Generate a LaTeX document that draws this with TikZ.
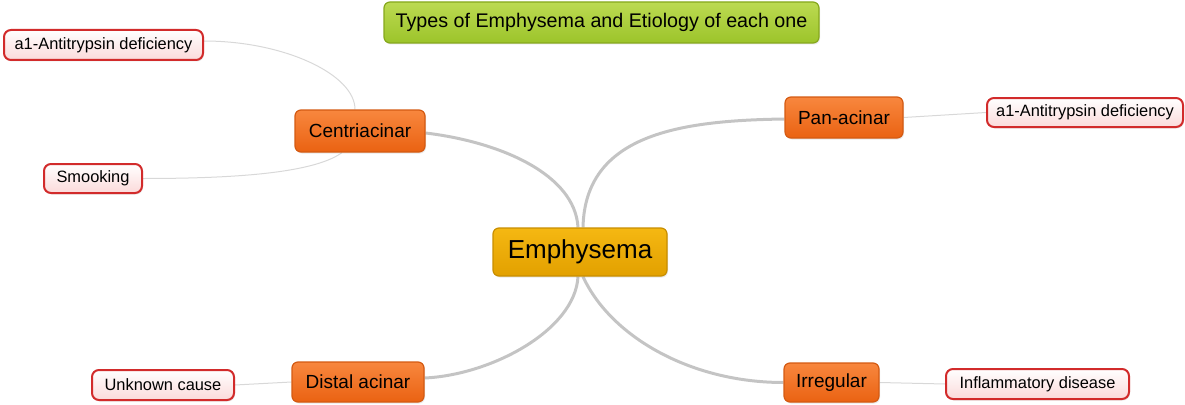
\documentclass[tikz,border=0pt]{standalone}
\usepackage{fontspec}
\setmainfont{Liberation Sans}
\usetikzlibrary{shadows,backgrounds}
\definecolor{titletop}{HTML}{BCDA52}
\definecolor{titlebot}{HTML}{9CC42A}
\definecolor{titleedge}{HTML}{86A81C}
\definecolor{goldtop}{HTML}{F5B812}
\definecolor{goldbot}{HTML}{E2A000}
\definecolor{goldedge}{HTML}{C88E00}
\definecolor{orgtop}{HTML}{F8873E}
\definecolor{orgbot}{HTML}{EA6212}
\definecolor{orgedge}{HTML}{D45A12}
\definecolor{leaftop}{HTML}{FFFFFF}
\definecolor{leafbot}{HTML}{FBDADA}
\definecolor{leafedge}{HTML}{D22B2B}
\definecolor{thick}{HTML}{C4C4C4}
\definecolor{thin}{HTML}{D8D8D8}
\tikzset{
  x=1pt,y=-1pt,
  box/.style={rounded corners=6pt, inner sep=0pt, align=center, line width=1.2pt,
    drop shadow={shadow xshift=1pt, shadow yshift=-1.5pt, opacity=0.18}},
  titlebox/.style={box, top color=titletop, bottom color=titlebot, draw=titleedge,
    font=\fontsize{19.7}{23}\selectfont},
  rootbox/.style={box, top color=goldtop, bottom color=goldbot, draw=goldedge,
    font=\fontsize{26}{30}\selectfont},
  typebox/.style={box, top color=orgtop, bottom color=orgbot, draw=orgedge,
    font=\fontsize{19}{22}\selectfont},
  leafbox/.style={box, rounded corners=7pt, top color=leaftop, bottom color=leafbot, draw=leafedge, line width=2pt,
    font=\fontsize{16.4}{19}\selectfont},
  mainlink/.style={draw=thick, line width=3pt},
  leaflink/.style={draw=thin, line width=1pt}
}
\begin{document}
\begin{tikzpicture}
\useasboundingbox (0,0) rectangle (1185,404);
\node[titlebox, minimum width=435pt, minimum height=41pt] (title) at (601.5,22.5) {Types of Emphysema and Etiology of each one};
\node[rootbox, minimum width=174pt, minimum height=48pt] (emph) at (580,252) {Emphysema};
\node[typebox, minimum width=130pt, minimum height=42pt] (cent) at (360,131) {Centriacinar};
\node[typebox, minimum width=118pt, minimum height=41pt] (pan) at (844,117.5) {Pan-acinar};
\node[typebox, minimum width=132pt, minimum height=40pt] (dist) at (358,382) {Distal acinar};
\node[typebox, minimum width=95pt, minimum height=39pt] (irr) at (831.5,382.5) {Irregular};
\node[leafbox, minimum width=199pt, minimum height=30pt] (alpha1) at (103.5,45) {a1-Antitrypsin deficiency};
\node[leafbox, minimum width=98pt, minimum height=29pt] (smoke) at (93,178.5) {Smooking};
\node[leafbox, minimum width=196pt, minimum height=29pt] (alpha2) at (1085,112.5) {a1-Antitrypsin deficiency};
\node[leafbox, minimum width=142pt, minimum height=30pt] (unk) at (163,385) {Unknown cause};
\node[leafbox, minimum width=183pt, minimum height=30pt] (infl) at (1037.5,384) {Inflammatory disease};
\begin{pgfonlayer}{background}
\path[mainlink] ([xshift=-2pt]emph.north) .. controls ++(-3,-53) and ++(75,9) .. ([yshift=-2pt]cent.east);
\path[mainlink] ([xshift=3pt]emph.north) .. controls ++(2,-93) and ++(-105,1.5) .. ([yshift=-1.5pt]pan.west);
\path[mainlink] ([xshift=-2pt]emph.south) .. controls ++(-3,54) and ++(66,-3) .. ([yshift=4pt]dist.east);
\path[mainlink] ([xshift=3pt]emph.south) .. controls ++(27,59) and ++(-94,0) .. (irr.west);
\path[leaflink] ([xshift=-5pt]cent.north) .. controls ++(0,-35) and ++(80,0) .. ([yshift=4pt]alpha1.east);
\path[leaflink] ([xshift=-18pt]cent.south) .. controls ++(-30,22) and ++(80,0) .. (smoke.east);
\path[leaflink] (pan.east) -- (alpha2.west);
\path[leaflink] (dist.west) -- (unk.east);
\path[leaflink] (irr.east) -- (infl.west);
\end{pgfonlayer}
\end{tikzpicture}
\end{document}
